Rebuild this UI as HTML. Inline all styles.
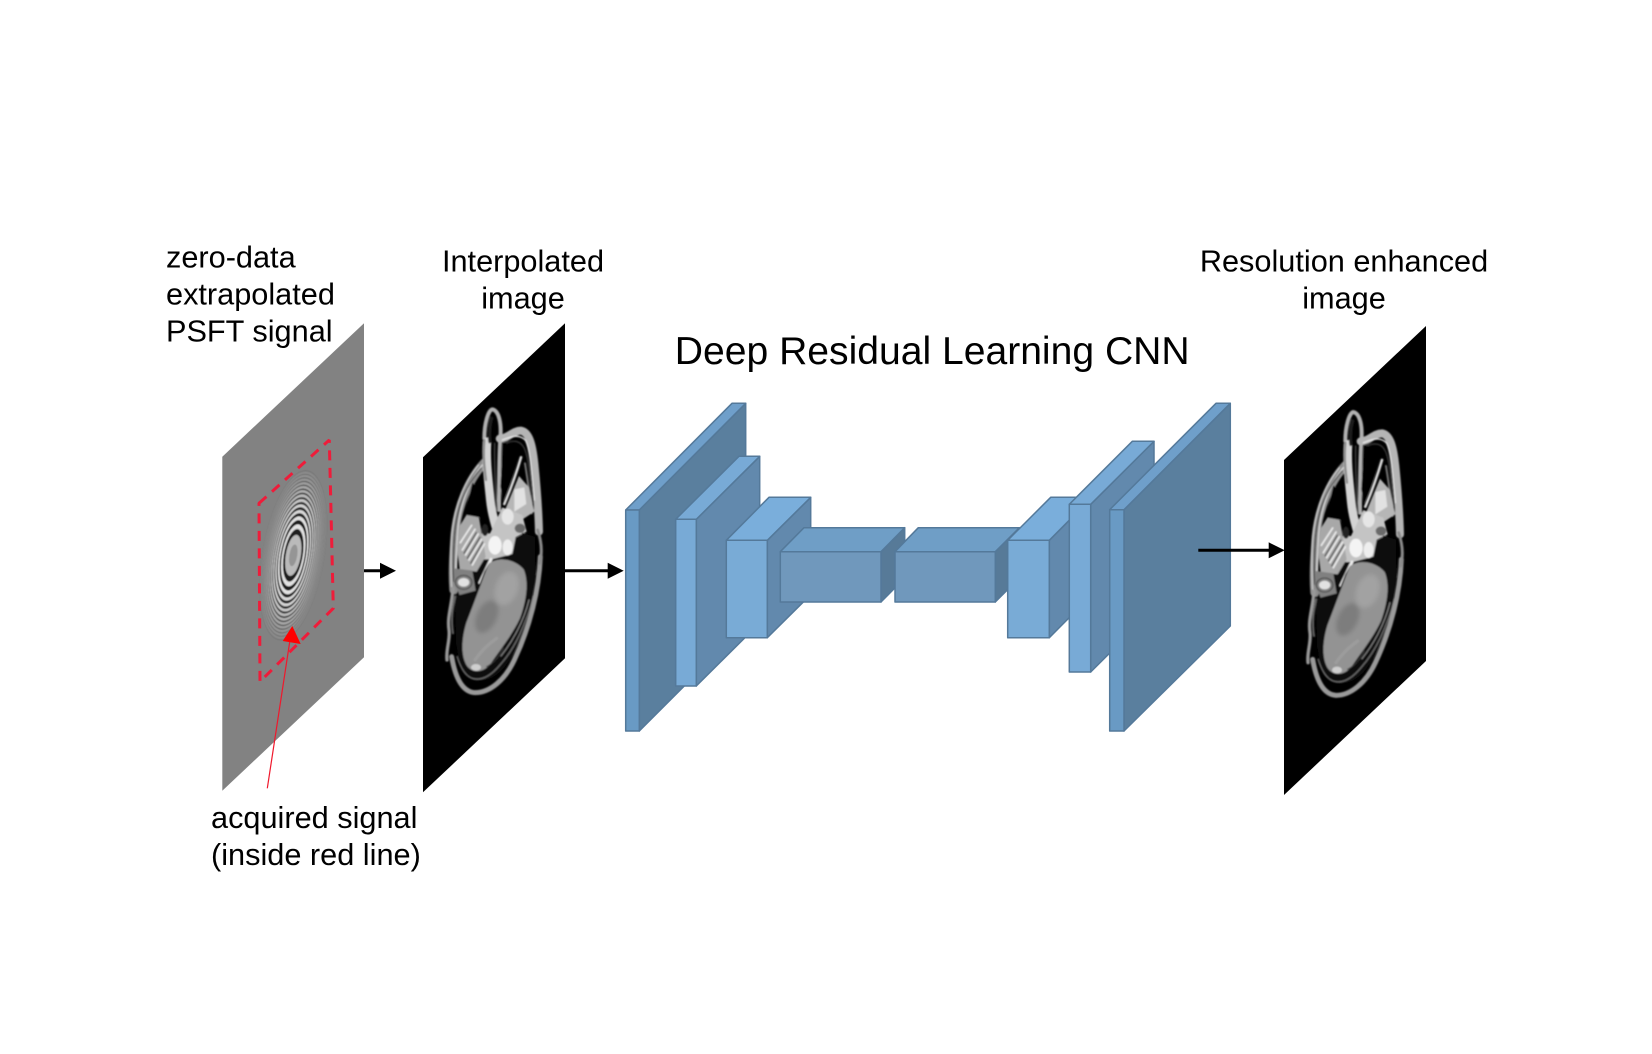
<!DOCTYPE html>
<html>
<head>
<meta charset="utf-8">
<style>
html,body{margin:0;padding:0;background:#fff;width:1652px;height:1054px;overflow:hidden}
svg{display:block}
text{font-family:"Liberation Sans",Arial,sans-serif;fill:#000}
.s{font-size:30.7px}
</style>
</head>
<body>
<svg width="1652" height="1054" viewBox="0 0 1652 1054" xmlns="http://www.w3.org/2000/svg">
<defs>
<filter id="b0" x="-5%" y="-5%" width="110%" height="110%"><feGaussianBlur stdDeviation="0.45"/></filter>
<filter id="b1" x="-10%" y="-10%" width="120%" height="120%"><feGaussianBlur stdDeviation="2"/></filter>
<filter id="b2" x="-20%" y="-20%" width="140%" height="140%"><feGaussianBlur stdDeviation="6"/></filter>
<g id="head">
<polygon points="423,457.3 565,323.3 565,658.3 423,792.3" fill="#000"/>
<g transform="translate(425,400) scale(0.3333)" fill="none" stroke-linecap="round" stroke-linejoin="round" filter="url(#b1)">
  <!-- lower soft-tissue fill behind the brain -->
  <path d="M88,560 C95,640 85,740 110,810 C130,850 190,860 240,800 C290,730 325,620 330,500 L300,400 L160,470 Z" fill="#0a0a0a"/>
  <!-- skin outer contour -->
  <path d="M346,470 C342,570 315,680 268,780 C240,840 195,878 150,878 C115,876 92,840 80,770" stroke="#9a9a9a" stroke-width="15"/>
  <path d="M322,590 C305,670 270,745 225,795 C200,825 170,845 140,835 C118,825 105,800 96,770" stroke="#6a6a6a" stroke-width="4"/>
  <!-- left strand band -->
  <path d="M178,188 C130,240 98,320 90,400 C85,470 82,520 86,570" stroke="#8e8e8e" stroke-width="26"/>
  <path d="M172,195 C128,250 104,320 98,395 C94,450 92,490 92,530" stroke="#d8d8d8" stroke-width="4"/>
  <path d="M160,195 C115,250 88,320 80,410 C76,470 78,520 80,560" stroke="#cfcfcf" stroke-width="3.5"/>
  <path d="M168,205 C125,255 96,320 89,400 C85,450 84,500 86,545" stroke="#2a2a2a" stroke-width="3"/>
  <path d="M84,565 C80,620 66,650 72,690 C76,720 62,750 66,780" stroke="#999" stroke-width="10"/>
  <path d="M90,590 C82,630 78,660 84,700" stroke="#666" stroke-width="6"/>
  <!-- nose loop -->
  <path d="M178,115 C178,70 190,30 202,28 C222,32 230,70 226,115 C222,170 222,240 222,330" stroke="#b0b0b0" stroke-width="12"/>
  <path d="M186,125 C182,180 190,240 196,300 C200,340 207,360 214,385" stroke="#d4d4d4" stroke-width="26"/>
  <path d="M178,120 C174,170 178,200 183,240" stroke="#8a8a8a" stroke-width="7"/>
  <path d="M200,55 C194,75 192,105 195,125" stroke="#1a1a1a" stroke-width="10"/>
  <path d="M209,130 C208,190 210,250 216,330" stroke="#444" stroke-width="4"/>
  <!-- right strand -->
  <path d="M224,116 C250,116 262,92 288,92 C312,96 322,132 328,190 C334,250 340,310 342,395" stroke="#b5b5b5" stroke-width="24"/>
  <path d="M232,120 C262,108 285,102 302,122 C316,150 320,220 328,300" stroke="#e8e8e8" stroke-width="4"/>
  <path d="M240,130 C265,120 285,120 298,145 C312,175 316,240 322,310" stroke="#3a3a3a" stroke-width="4"/>
  <path d="M338,390 C350,425 352,460 344,490" stroke="#8a8a8a" stroke-width="9"/>
  <!-- sinus tissue -->
  <path d="M288,172 C274,220 262,255 238,312" stroke="#d8d8d8" stroke-width="8"/>
  <path d="M300,190 C308,240 316,290 320,340" stroke="#777" stroke-width="6"/>
  <polygon points="282,228 312,262 328,335 290,360 240,330" fill="#b6b6b6"/>
  <polygon points="268,268 298,262 304,312 268,335" fill="#e2e2e2"/>
  <!-- central bright tissue -->
  <polygon points="195,400 232,322 292,345 305,395 272,412 262,462 200,478 160,478 160,400" fill="#c4c4c4"/>
  <ellipse cx="210" cy="436" rx="20" ry="28" fill="#f4f4f4"/>
  <ellipse cx="248" cy="442" rx="15" ry="24" fill="#eeeeee"/>
  <ellipse cx="248" cy="350" rx="18" ry="24" fill="#e6e6e6"/>
  <ellipse cx="285" cy="385" rx="16" ry="14" fill="#6a6a6a"/>
  <ellipse cx="180" cy="390" rx="10" ry="18" fill="#222"/>
  <!-- left structures -->
  <polygon points="104,378 126,342 162,352 170,400 182,470 155,515 104,510 96,440" fill="#a8a8a8"/>
  <path d="M112,450 L150,388 M122,465 L160,402 M132,480 L170,418 M142,495 L178,432 M106,428 L140,376" stroke="#ececec" stroke-width="5"/>
  <path d="M117,460 L154,398 M127,475 L165,412 M137,490 L174,426" stroke="#383838" stroke-width="3"/>
  <polygon points="90,505 142,512 152,572 104,585 86,545" fill="#808080"/>
  <ellipse cx="116" cy="547" rx="17" ry="13" fill="#e2e2e2"/>
  <ellipse cx="116" cy="547" rx="25" ry="21" stroke="#444" stroke-width="3"/>
  <path d="M165,548 L198,478" stroke="#ececec" stroke-width="9"/>
  <!-- dark voids -->
  <polygon points="142,248 130,300 124,345 165,352 178,372 172,275" fill="#000"/>
  <polygon points="234,128 272,134 276,170 258,240 234,302 226,260" fill="#000"/>
  <polygon points="262,462 292,398 330,410 332,525 300,515" fill="#070707"/>
  <polygon points="150,585 178,515 192,490 150,640 118,730 112,790 92,730 96,640" fill="#0a0a0a"/>
  <!-- brain -->
  <path d="M192,490 C222,470 268,476 296,508 C312,545 305,600 285,655 C262,705 225,750 198,790 C178,818 145,822 126,798 C108,770 108,722 124,668 C146,612 170,545 192,490 Z" fill="#939393"/>
  <ellipse cx="185" cy="650" rx="30" ry="52" fill="#7d7d7d" transform="rotate(25 185 650)" filter="url(#b2)"/>
  <ellipse cx="245" cy="565" rx="34" ry="52" fill="#a2a2a2" transform="rotate(20 245 565)" filter="url(#b2)"/>
  <path d="M150,780 C175,745 195,730 215,715" stroke="#9c9c9c" stroke-width="10"/>
  <path d="M235,745 C222,770 205,790 185,800" stroke="#3c3c3c" stroke-width="3"/>
  <path d="M318,590 C300,665 262,735 215,785 C190,815 160,838 132,822" stroke="#0a0a0a" stroke-width="10"/>
  <path d="M312,600 C296,665 262,725 228,768" stroke="#8c8c8c" stroke-width="3"/>
  <ellipse cx="153" cy="802" rx="15" ry="10" fill="#cfcfcf"/>
</g>
</g>
</defs>

<!-- Gray k-space plane -->
<polygon points="222.3,456.7 364,323.3 364,657.3 222.3,790.7" fill="#828282"/>
<g filter="url(#b0)" opacity=".85">
<g transform="matrix(142,-133.4,0,334,222.3,456.7)" fill="none">
  <g stroke="#111">
    <circle cx=".5" cy=".495" r=".065" stroke-width=".014"/>
    <circle cx=".5" cy=".495" r=".0919" stroke-width=".011"/>
    <circle cx=".5" cy=".495" r=".1126" stroke-width=".009" opacity=".9"/>
    <circle cx=".5" cy=".495" r=".13" stroke-width=".008" opacity=".85"/>
    <circle cx=".5" cy=".495" r=".1453" stroke-width=".007" opacity=".75"/>
    <circle cx=".5" cy=".495" r=".1592" stroke-width=".0065" opacity=".65"/>
    <circle cx=".5" cy=".495" r=".172" stroke-width=".006" opacity=".55"/>
    <circle cx=".5" cy=".495" r=".1838" stroke-width=".0055" opacity=".45"/>
    <circle cx=".5" cy=".495" r=".195" stroke-width=".005" opacity=".35"/>
    <circle cx=".5" cy=".495" r=".2055" stroke-width=".005" opacity=".28"/>
    <circle cx=".5" cy=".495" r=".2156" stroke-width=".005" opacity=".2"/>
    <circle cx=".5" cy=".495" r=".2252" stroke-width=".0045" opacity=".15"/>
    <circle cx=".5" cy=".495" r=".2344" stroke-width=".0045" opacity=".1"/>
  </g>
  <g stroke="#f2f2f2">
    <circle cx=".5" cy=".495" r=".0796" stroke-width=".012"/>
    <circle cx=".5" cy=".495" r=".1028" stroke-width=".01"/>
    <circle cx=".5" cy=".495" r=".1216" stroke-width=".008" opacity=".9"/>
    <circle cx=".5" cy=".495" r=".1379" stroke-width=".007" opacity=".85"/>
    <circle cx=".5" cy=".495" r=".1524" stroke-width=".0065" opacity=".75"/>
    <circle cx=".5" cy=".495" r=".1657" stroke-width=".006" opacity=".6"/>
    <circle cx=".5" cy=".495" r=".178" stroke-width=".0055" opacity=".5"/>
    <circle cx=".5" cy=".495" r=".1895" stroke-width=".005" opacity=".4"/>
    <circle cx=".5" cy=".495" r=".2003" stroke-width=".005" opacity=".3"/>
    <circle cx=".5" cy=".495" r=".2106" stroke-width=".005" opacity=".22"/>
    <circle cx=".5" cy=".495" r=".2204" stroke-width=".0045" opacity=".16"/>
    <circle cx=".5" cy=".495" r=".2298" stroke-width=".0045" opacity=".1"/>
  </g>
  <circle cx=".5" cy=".495" r=".056" fill="#c4c4c4"/>
  <circle cx=".5" cy=".495" r=".03" fill="#999"/>
</g>
</g>

<!-- Red dashed outline -->
<polygon points="259,503.3 329.3,440 333.3,608.3 260,681.7" fill="none" stroke="#ee1c3a" stroke-width="3" stroke-linejoin="bevel" stroke-dasharray="10 7.5"/>

<!-- Red annotation arrow -->
<line x1="267.3" y1="788.3" x2="290" y2="640" stroke="#f0182c" stroke-width="1.2"/>
<polygon points="292.3,626 282.7,641 300.7,644" fill="#ff0000"/>

<!-- MRI images -->
<use href="#head"/>
<use href="#head" transform="translate(861,2.7)"/>

<!-- Block 1 -->
<g stroke="#54799a" stroke-width="1.5" stroke-linejoin="round">
  <polygon points="639.3,510 745.7,403.3 745.7,624.6 639.3,731" fill="#5a7f9e"/>
  <polygon points="625.7,510 732,403.3 745.7,403.3 639.3,510" fill="#6f9fca"/>
  <rect x="625.7" y="510" width="13.6" height="221" fill="#699ac4"/>
  <!-- Block 2 -->
  <polygon points="696.3,519.3 759.7,456.3 759.7,623 696.3,686" fill="#6289ad"/>
  <polygon points="675.7,519.3 739,456.3 759.7,456.3 696.3,519.3" fill="#78aad6"/>
  <rect x="675.7" y="519.3" width="20.6" height="166.7" fill="#78aad6"/>
  <!-- Block 3 -->
  <polygon points="767.3,540.3 810.7,497.3 810.7,594.7 767.3,637.7" fill="#6289ad"/>
  <polygon points="726.3,540.3 769,497.3 810.7,497.3 767.3,540.3" fill="#7aaedb"/>
  <rect x="726.3" y="540.3" width="41" height="97.4" fill="#79abd6"/>
  <!-- Block 4 -->
  <polygon points="881,551.7 904.7,527.7 904.7,578 881,602" fill="#577a98"/>
  <polygon points="780.3,551.7 804,527.7 904.7,527.7 881,551.7" fill="#6f9ec6"/>
  <rect x="780.3" y="551.7" width="100.7" height="50.3" fill="#7098bc"/>
  <!-- Block 5 -->
  <polygon points="995.3,551.7 1019.3,527.7 1019.3,578 995.3,602" fill="#577a98"/>
  <polygon points="895,551.7 918.3,527.7 1019.3,527.7 995.3,551.7" fill="#6f9ec6"/>
  <rect x="895" y="551.7" width="100.3" height="50.3" fill="#7098bc"/>
  <!-- Block 6 -->
  <polygon points="1049.3,540.3 1092,497.3 1092,594.7 1049.3,637.7" fill="#6289ad"/>
  <polygon points="1007.7,540.3 1050.7,497.3 1092,497.3 1049.3,540.3" fill="#7aaedb"/>
  <rect x="1007.7" y="540.3" width="41.6" height="97.4" fill="#79abd6"/>
  <!-- Block 7 -->
  <polygon points="1090.7,504.3 1154,441.3 1154,609 1090.7,672" fill="#6289ad"/>
  <polygon points="1069.3,504.3 1132.3,441.3 1154,441.3 1090.7,504.3" fill="#78aad6"/>
  <rect x="1069.3" y="504.3" width="21.4" height="167.7" fill="#78aad6"/>
  <!-- Block 8 -->
  <polygon points="1124,509.7 1230.3,403.3 1230.3,626 1124,731" fill="#5a7f9e"/>
  <polygon points="1109.7,509.7 1216,403.3 1230.3,403.3 1124,509.7" fill="#6f9fca"/>
  <rect x="1109.7" y="509.7" width="14.3" height="221.3" fill="#699ac4"/>
</g>

<!-- Black arrows -->
<g stroke="#000" stroke-width="3">
  <line x1="364" y1="570.7" x2="382" y2="570.7"/>
  <line x1="565" y1="570.7" x2="610" y2="570.7"/>
  <line x1="1198.3" y1="550.3" x2="1271" y2="550.3"/>
</g>
<polygon points="380,562.7 396,570.7 380,578.7" fill="#000"/>
<polygon points="607.7,562.7 623.7,570.7 607.7,578.7" fill="#000"/>
<polygon points="1268.7,542.3 1284.7,550.3 1268.7,558.3" fill="#000"/>

<!-- Labels -->
<text class="s" x="166" y="267.5">zero-data</text>
<text class="s" x="166" y="304.3">extrapolated</text>
<text class="s" x="166" y="341.5">PSFT signal</text>
<text class="s" x="523" y="271.7" text-anchor="middle">Interpolated</text>
<text class="s" x="523" y="308.3" text-anchor="middle">image</text>
<text class="s" x="1344" y="271.7" text-anchor="middle">Resolution enhanced</text>
<text class="s" x="1344" y="308.3" text-anchor="middle">image</text>
<text x="674.8" y="364" style="font-size:39.1px">Deep Residual Learning CNN</text>
<text class="s" x="211" y="828">acquired signal</text>
<text class="s" x="211" y="865">(inside red line)</text>
</svg>
</body>
</html>
